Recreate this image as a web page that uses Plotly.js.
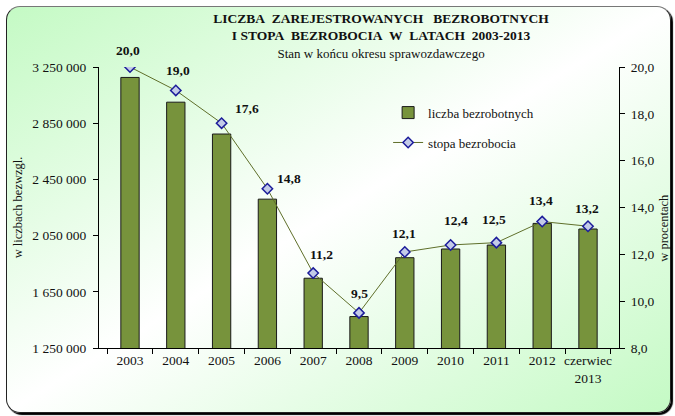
<!DOCTYPE html>
<html>
<head>
<meta charset="utf-8">
<script src="https://cdn.plot.ly/plotly-3.0.1.min.js"></script>
<style>
  html, body { margin: 0; padding: 0; width: 675px; height: 416px; overflow: hidden; background: #ffffff; }
  #frame {
    position: absolute; left: 6px; top: 6px; width: 665px; height: 407px;
    box-sizing: border-box; border: 1px solid #222; border-top-color: #777;
    border-radius: 14px;
    background: linear-gradient(to bottom right, #c4fac4 0%, #ffffff 50%, #c4fac4 100%);
    box-shadow: 2px 2px 1px #000;
  }
  #chart { position: absolute; left: 0; top: 0; width: 675px; height: 416px; }
</style>
</head>
<body>
<div id="frame"></div>
<div id="chart"></div>
<script>
// ---- data ----
const categories = ['2003', '2004', '2005', '2006', '2007', '2008', '2009', '2010', '2011', '2012', 'czerwiec<br>2013'];
const unemployed = [3175674, 2999601, 2773000, 2309410, 1746573, 1473752, 1892680, 1954706, 1982676, 2136815, 2097000];
const rate = [20.0, 19.0, 17.6, 14.8, 11.2, 9.5, 12.1, 12.4, 12.5, 13.4, 13.2];
const seriesNames = ['liczba bezrobotnych', 'stopa bezrobocia'];

// label offsets (style only, px)
const labelDX = [-2, 2, 25, 22, 8, 0, -1, 5, -2, -1, -1];
const labelDY = [17, 20, 15, 10, 19, 19, 18, 24, 23, 21, 18];

const FONT = 'Liberation Serif, Times New Roman, serif';

const bars = {
  type: 'bar', name: seriesNames[0], x: categories, y: unemployed, yaxis: 'y',
  marker: { color: '#77933c', line: { color: '#1a1a1a', width: 1 } },
  legendgroup: 'a', hoverinfo: 'x+y'
};
const line = {
  type: 'scatter', mode: 'lines+markers', name: seriesNames[1], x: categories, y: rate, yaxis: 'y2',
  line: { color: '#5f6f2a', width: 1 },
  marker: { symbol: 'diamond', size: 8, color: '#c3cbe8', line: { color: '#1c1c9a', width: 1.5 } },
  legendgroup: 'b', hoverinfo: 'x+y'
};

// on a category axis, annotation x is the category's serial index
const annotations = rate.map((v, i) => ({
  x: i, y: v, xref: 'x', yref: 'y2', showarrow: false,
  text: '<b>' + v.toFixed(1).replace('.', ',') + '</b>',
  xshift: labelDX[i], yshift: labelDY[i],
  font: { family: FONT, size: 13.5, color: '#111' }
}));
annotations.push({
  xref: 'paper', yref: 'paper', x: 1.0865, y: 0.428, showarrow: false,
  text: 'w procentach', textangle: -90, xanchor: 'center', yanchor: 'middle',
  font: { family: FONT, size: 12.5, color: '#111' }
});

const layout = {
  width: 675, height: 416,
  margin: { l: 99, r: 56, t: 67, b: 68 },
  paper_bgcolor: 'rgba(0,0,0,0)', plot_bgcolor: 'rgba(0,0,0,0)',
  separators: ', ',
  font: { family: FONT, size: 12.5, color: '#111' },
  title: {
    text: '<b>LICZBA&nbsp; ZAREJESTROWANYCH&nbsp;&nbsp; BEZROBOTNYCH<br>I STOPA&nbsp; BEZROBOCIA&nbsp; W&nbsp; LATACH&nbsp; 2003-2013</b><br><span style="font-size:13px">Stan w końcu okresu sprawozdawczego</span>',
    font: { family: FONT, size: 13.5, color: '#111' },
    xref: 'container', x: 0.5645, xanchor: 'center',
    yref: 'container', y: 0.945, yanchor: 'top'
  },
  bargap: 0.6,
  showlegend: true,
  legend: {
    x: 0.556, y: 0.891, xanchor: 'left', yanchor: 'top',
    bgcolor: 'rgba(0,0,0,0)', traceorder: 'grouped', tracegroupgap: 10,
    font: { family: FONT, size: 13, color: '#111' }
  },
  xaxis: {
    type: 'category', showline: true, linecolor: '#000', linewidth: 1,
    ticks: 'outside', ticklen: 5, tickcolor: '#000', tickson: 'boundaries',
    tickangle: 0,
    showgrid: false, zeroline: false, fixedrange: true,
    tickfont: { family: FONT, size: 13.5, color: '#111' }
  },
  yaxis: {
    range: [1250000, 3250000], dtick: 400000, tick0: 1250000,
    tickformat: ',d', showline: true, linecolor: '#000', linewidth: 1,
    ticks: 'outside', ticklen: 5, tickcolor: '#000', ticklabelstandoff: 4,
    showgrid: false, zeroline: false, fixedrange: true,
    tickfont: { family: FONT, size: 13.5, color: '#111' },
    title: { text: 'w liczbach bezwzgl.', font: { family: FONT, size: 12.5, color: '#111' }, standoff: 6 }
  },
  yaxis2: {
    overlaying: 'y', side: 'right', range: [8, 20], dtick: 2, tick0: 8,
    tickformat: '.1f', showline: true, linecolor: '#000', linewidth: 1,
    ticks: 'outside', ticklen: 5, tickcolor: '#000', ticklabelstandoff: 3,
    showgrid: false, zeroline: false, fixedrange: true,
    tickfont: { family: FONT, size: 13.5, color: '#111' }
  },
  annotations: annotations
};

Plotly.newPlot('chart', [bars, line], layout, { displayModeBar: false, staticPlot: true });
</script>
</body>
</html>
